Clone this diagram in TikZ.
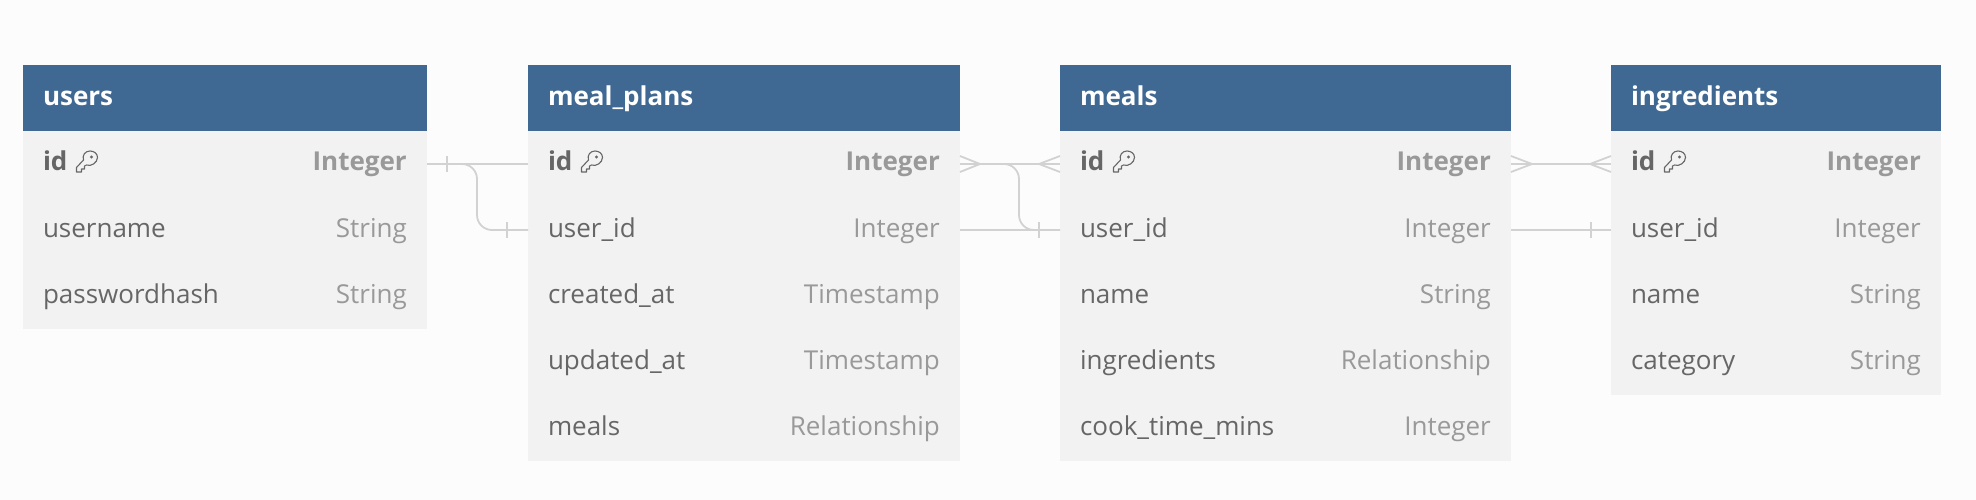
\documentclass[tikz,border=0pt]{standalone}
\usepackage{fontspec}
\setmainfont{Open Sans}
\usetikzlibrary{positioning, calc}
\definecolor{pagebg}{HTML}{FCFCFC}
\definecolor{headblue}{HTML}{3F6892}
\definecolor{rowgray}{HTML}{F2F2F2}
\definecolor{fieldtxt}{HTML}{666666}
\definecolor{typetxt}{HTML}{999999}
\definecolor{linkgray}{HTML}{D2D2D2}

\begin{document}
\begin{tikzpicture}[
    x=1pt, y=1pt,
    node distance=0pt,
    tablehead/.style={fill=headblue, text=white, font=\fontsize{26pt}{30pt}\selectfont\bfseries, minimum width=#1, text width=#1-40pt, minimum height=66pt, inner xsep=20pt, inner ysep=0pt, outer sep=0pt, align=left, text height=20pt, text depth=5pt},
    fieldrow/.style={fill=rowgray, text=fieldtxt, font=\fontsize{26pt}{30pt}\selectfont, minimum width=#1, text width=#1-40pt, minimum height=66pt, inner xsep=20pt, inner ysep=0pt, outer sep=0pt, align=left, text height=20pt, text depth=6pt},
    ftype/.style={label={[typetxt, anchor=east, xshift=-20pt, inner sep=0pt, text height=20pt, text depth=6pt, font=\fontsize{26pt}{30pt}\selectfont]east:#1}},
    fkey/.style={label={[typetxt, anchor=east, xshift=-20pt, inner sep=0pt, text height=20pt, text depth=6pt, font=\fontsize{26pt}{30pt}\selectfont\bfseries]east:#1}},
    link/.style={linkgray, line width=1.8pt},
    linkbend/.style={link, rounded corners=15pt},
    keyicon/.style={draw=fieldtxt, line width=1.1pt, line join=round},
]

% === PAGE ===
\fill[pagebg] (0,0) rectangle (1976,-500);

% === USERS ===
\node[tablehead=404pt, anchor=north west] (users_h) at (23,-65) {users};
\node[fieldrow=404pt, fkey=Integer, below=of users_h] (users_id) {\bfseries id};
\node[fieldrow=404pt, ftype=String, below=of users_id] (users_name) {username};
\node[fieldrow=404pt, ftype=String, below=of users_name] (users_pass) {passwordhash};

% === MEAL PLANS ===
\node[tablehead=432pt, right=101pt of users_h] (plans_h) {meal\_plans};
\node[fieldrow=432pt, fkey=Integer, below=of plans_h] (plans_id) {\bfseries id};
\node[fieldrow=432pt, ftype=Integer, below=of plans_id] (plans_uid) {user\_id};
\node[fieldrow=432pt, ftype=Timestamp, below=of plans_uid] (plans_created) {created\_at};
\node[fieldrow=432pt, ftype=Timestamp, below=of plans_created] (plans_updated) {updated\_at};
\node[fieldrow=432pt, ftype=Relationship, below=of plans_updated] (plans_meals) {meals};

% === MEALS ===
\node[tablehead=451pt, right=100pt of plans_h] (meals_h) {meals};
\node[fieldrow=451pt, fkey=Integer, below=of meals_h] (meals_id) {\bfseries id};
\node[fieldrow=451pt, ftype=Integer, below=of meals_id] (meals_uid) {user\_id};
\node[fieldrow=451pt, ftype=String, below=of meals_uid] (meals_name) {name};
\node[fieldrow=451pt, ftype=Relationship, below=of meals_name] (meals_ingr) {ingredients};
\node[fieldrow=451pt, ftype=Integer, below=of meals_ingr] (meals_cook) {cook\_time\_mins};

% === INGREDIENTS ===
\node[tablehead=330pt, right=100pt of meals_h] (ingr_h) {ingredients};
\node[fieldrow=330pt, fkey=Integer, below=of ingr_h] (ingr_id) {\bfseries id};
\node[fieldrow=330pt, ftype=Integer, below=of ingr_id] (ingr_uid) {user\_id};
\node[fieldrow=330pt, ftype=String, below=of ingr_uid] (ingr_name) {name};
\node[fieldrow=330pt, ftype=String, below=of ingr_name] (ingr_cat) {category};

% === KEY ICONS ===
\foreach \rowname in {users_id, plans_id, meals_id, ingr_id} {
    \begin{scope}[shift={($(\rowname.west)+(64,2.5)$)}]
        \draw[keyicon] (-10.5,-6) -- (-10.5,-10.5) -- (-5.5,-10.5) -- (-5.5,-7.5) -- (-2.5,-7.5) -- (-2.5,-4.5) -- (-0.5,-3.5)
            .. controls (4,-5.5) and (10.5,-1) .. (10.5,4)
            .. controls (10.5,8) and (7,10.5) .. (3,10.5)
            .. controls (-2,10.5) and (-5,6) .. (-3.5,1.5) -- cycle;
        \fill[fieldtxt] (4.5,4.5) circle (1.6);
    \end{scope}
}

% === USERS -- MEAL PLANS ===
\draw[link] (users_id.east) -- (plans_id.west);
\draw[linkbend] (users_id.east) -- ++(50,0) |- (plans_uid.west);
\draw[link] ($(users_id.east)+(20,8)$) -- ++(0,-16);
\draw[link] ($(plans_uid.west)+(-21,8)$) -- ++(0,-16);

% === MEAL PLANS -- MEALS ===
\draw[link] (plans_id.east) -- (meals_id.west);
\draw[link] (plans_uid.east) -- (meals_uid.west);
\draw[linkbend] (plans_id.east) -- ++(59,0) |- (meals_uid.west);
\draw[link] ($(plans_id.east)+(0,8)$) -- ++(20,-8) -- ++(-20,-8);
\draw[link] ($(meals_id.west)+(0,8)$) -- ++(-21,-8) -- ++(21,-8);
\draw[link] ($(meals_uid.west)+(-21,8)$) -- ++(0,-16);

% === MEALS -- INGREDIENTS ===
\draw[link] (meals_id.east) -- (ingr_id.west);
\draw[link] (meals_uid.east) -- (ingr_uid.west);
\draw[link] ($(meals_id.east)+(0,8)$) -- ++(21,-8) -- ++(-21,-8);
\draw[link] ($(ingr_id.west)+(0,8)$) -- ++(-21,-8) -- ++(21,-8);
\draw[link] ($(ingr_uid.west)+(-20,8)$) -- ++(0,-16);

\end{tikzpicture}
\end{document}
